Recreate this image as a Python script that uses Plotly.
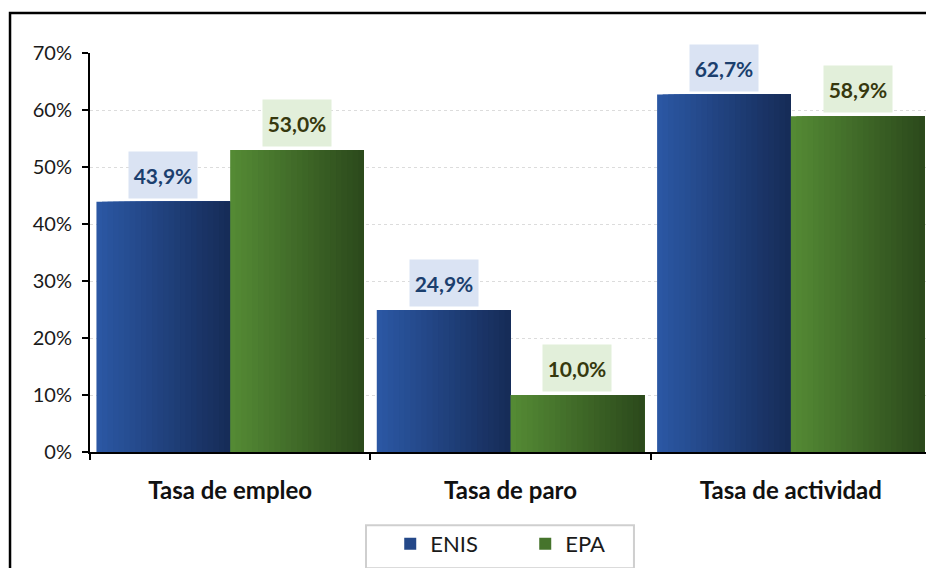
import plotly.graph_objects as go

categories = ["Tasa de empleo", "Tasa de paro", "Tasa de actividad"]
series_names = ["ENIS", "EPA"]
enis_values = [43.9, 24.9, 62.7]
epa_values = [53.0, 10.0, 58.9]

# left -> right colour of the gradient fill in each series
grad_colors = {
    "ENIS": ((43, 87, 163), (22, 44, 88)),
    "EPA": ((84, 138, 52), (44, 74, 28)),
}
label_bg = {"ENIS": "#dae3f3", "EPA": "#e2efda"}
label_fg = {"ENIS": "#1b3f6e", "EPA": "#36380e"}

FONT = "Lato, Open Sans, sans-serif"
BAR_W = 0.477
N_SLICES = 24


def mix(c0, c1, t):
    return "rgb({},{},{})".format(*[round(a + (b - a) * t) for a, b in zip(c0, c1)])


fig = go.Figure()

annotations = []
for s, (name, values) in enumerate(zip(series_names, [enis_values, epa_values])):
    start = -BAR_W if s == 0 else 0.0
    c0, c1 = grad_colors[name]
    # gradient fill: each slice runs to the bar's right end, later ones paint over
    for k in range(N_SLICES):
        step = BAR_W / N_SLICES
        fig.add_trace(
            go.Bar(
                x=categories,
                y=values,
                offset=start + k * step,
                width=BAR_W - k * step,
                marker=dict(color=mix(c0, c1, k / (N_SLICES - 1)), line=dict(width=0)),
                name=name,
                legendgroup=name,
                showlegend=(k == N_SLICES // 3),
                hoverinfo="skip" if k else "x+y+name",
            )
        )
    for i, v in enumerate(values):
        annotations.append(
            dict(
                x=i + start + BAR_W / 2,
                y=v,
                xref="x",
                yref="y",
                text=f"<b>{v:.1f}%</b>".replace(".", ","),
                showarrow=False,
                yanchor="bottom",
                yshift=3,
                width=66,
                height=44,
                bgcolor=label_bg[name],
                font=dict(family=FONT, size=21, color=label_fg[name]),
            )
        )

# the page body adds an 8px offset, margins are set to compensate
fig.update_layout(
    width=934,
    height=568,
    barmode="overlay",
    paper_bgcolor="white",
    plot_bgcolor="white",
    margin=dict(l=82, r=11, t=45, b=122),
    font=dict(family=FONT, color="#1a1a1a"),
    annotations=annotations,
    legend=dict(
        orientation="h",
        x=0.357,
        xanchor="left",
        y=-0.178,
        yanchor="top",
        bgcolor="rgba(0,0,0,0)",
        borderwidth=0,
        font=dict(family=FONT, size=22, color="#1a1a1a"),
        entrywidth=90,
        itemclick=False,
    ),
    shapes=[
        # outer chart frame
        dict(
            type="rect",
            xref="paper",
            yref="paper",
            x0=-0.0951,
            x1=1.2,
            y0=-0.5,
            y1=1.1005,
            line=dict(color="black", width=2.5),
            layer="below",
        ),
        # legend box
        dict(
            type="rect",
            xref="paper",
            yref="paper",
            x0=0.3282,
            x1=0.6468,
            y0=-0.2915,
            y1=-0.1834,
            line=dict(color="#cfcfcf", width=2),
            layer="below",
        ),
    ],
)

fig.update_xaxes(
    type="category",
    range=[-0.5, 2.5],
    showline=True,
    linecolor="black",
    linewidth=2,
    ticks="outside",
    tickson="boundaries",
    ticklen=6,
    tickwidth=2,
    tickcolor="black",
    ticklabelstandoff=16,
    tickfont=dict(family=FONT, size=24, color="#111111", weight="bold"),
    showgrid=False,
)
fig.update_yaxes(
    range=[0, 70],
    dtick=10,
    ticksuffix="%",
    showline=True,
    linecolor="black",
    linewidth=2,
    ticks="outside",
    ticklen=6,
    tickwidth=2,
    tickcolor="black",
    ticklabelstandoff=6,
    tickfont=dict(family=FONT, size=20, color="#1a1a1a"),
    showgrid=True,
    gridcolor="#dcdcdc",
    griddash="dot",
    gridwidth=1,
    zeroline=False,
)

fig.write_html("out.html")
